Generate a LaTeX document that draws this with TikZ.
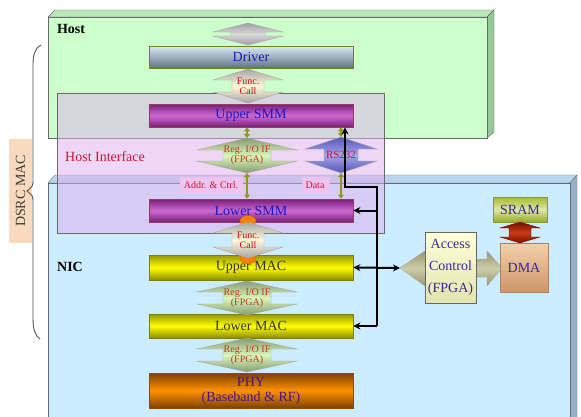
\documentclass[tikz,border=0pt]{standalone}
\usepackage{fontspec}
\setmainfont{Liberation Serif}
\usetikzlibrary{arrows.meta}
\definecolor{hostG}{RGB}{204,255,204}
\definecolor{hostGtop}{RGB}{185,232,185}
\definecolor{hostGside}{RGB}{150,200,150}
\definecolor{nicB}{RGB}{204,236,255}
\definecolor{nicBtop}{RGB}{185,214,238}
\definecolor{nicBside}{RGB}{150,178,202}
\definecolor{hifP}{RGB}{225,175,240}
\definecolor{hilite}{RGB}{238,196,238}
\definecolor{boxln}{RGB}{105,105,105}
\definecolor{olv}{RGB}{125,125,20}
\definecolor{lnkolv}{RGB}{150,150,25}
\definecolor{txB}{RGB}{25,25,200}
\definecolor{txR}{RGB}{205,20,55}
\definecolor{txF}{RGB}{210,10,10}
\definecolor{txG}{RGB}{185,60,30}
\definecolor{txN}{RGB}{55,40,150}
\definecolor{txP}{RGB}{70,20,140}

% vertical double block arrow: name, style, x, top, bottom, head half, shaft half, head length
\newcommand{\updn}[8]{%
  \path[#2] (#3,#4) -- ({#3+#6},{#4+#8}) -- ({#3+#7},{#4+#8}) -- ({#3+#7},{#5-#8})
    -- ({#3+#6},{#5-#8}) -- (#3,#5) -- ({#3-#6},{#5-#8}) -- ({#3-#7},{#5-#8})
    -- ({#3-#7},{#4+#8}) -- ({#3-#6},{#4+#8}) -- cycle;
  \coordinate (#1-n) at (#3,#4);
  \coordinate (#1-s) at (#3,#5);
  \coordinate (#1) at ({#3},{(#4+#5)/2});}

\begin{document}
\begin{tikzpicture}[
    x=1pt, y=-1pt,
    big/.style={font=\fontsize{14}{16}\selectfont},
    small/.style={font=\fontsize{10}{10}\selectfont, align=center, inner sep=0pt},
    bar/.style={rectangle, draw=olv, line width=0.8pt, minimum width=204pt, inner sep=0pt, big},
    drvbar/.style={bar, top color={rgb,255:red,215;green,235;blue,246}, bottom color={rgb,255:red,95;green,115;blue,135}, text=txB},
    smmbar/.style={bar, draw={rgb,255:red,150;green,60;blue,90}, top color={rgb,255:red,120;green,30;blue,120}, bottom color={rgb,255:red,120;green,30;blue,120}, middle color={rgb,255:red,205;green,105;blue,210}, text=txB},
    macbar/.style={bar, top color={rgb,255:red,150;green,150;blue,0}, bottom color={rgb,255:red,140;green,140;blue,0}, middle color={rgb,255:red,255;green,255;blue,0}, text={rgb,255:red,50;green,50;blue,50}},
    phybar/.style={bar, draw={rgb,255:red,130;green,80;blue,0}, top color={rgb,255:red,125;green,65;blue,0}, bottom color={rgb,255:red,125;green,65;blue,0}, middle color={rgb,255:red,255;green,145;blue,0}, text=txP, align=center},
    grayblk/.style={draw=gray!70, top color=gray!75, bottom color=gray!75, middle color=gray!30},
    fcblk/.style={draw=gray!70, top color=gray!70, bottom color=gray!70, middle color={rgb,255:red,255;green,247;blue,215}},
    regblk/.style={draw=gray!70, top color={rgb,255:red,135;green,155;blue,115}, bottom color={rgb,255:red,135;green,155;blue,115}, middle color={rgb,255:red,218;green,246;blue,185}},
    rsblk/.style={draw=gray!70, top color={rgb,255:red,85;green,85;blue,185}, bottom color={rgb,255:red,85;green,85;blue,185}, middle color={rgb,255:red,165;green,165;blue,238}},
    redblk/.style={draw={rgb,255:red,110;green,20;blue,0}, top color={rgb,255:red,120;green,15;blue,0}, bottom color={rgb,255:red,120;green,15;blue,0}, middle color={rgb,255:red,200;green,60;blue,20}},
    lnk/.style={draw=lnkolv, line width=2pt, {Triangle[length=4pt,width=6pt]}-{Triangle[length=4pt,width=6pt]}},
    bus/.style={draw=black, line width=2pt, -{Stealth[length=7pt,width=7pt]}},
  ]
  \useasboundingbox (0,0) rectangle (581,416);
  \fill[white] (0,0) rectangle (581,416);

  %% ---------------- Host and NIC boxes ----------------
  \path[draw=boxln, fill=hostGtop] (48,17) -- (55,10) -- (494,10) -- (487,17) -- cycle;
  \path[draw=boxln, fill=hostGside] (487,17) -- (494,10) -- (494,132) -- (487,138) -- cycle;
  \path[draw=boxln, fill=hostG] (48,17) rectangle (487,138);
  \path[draw=boxln, fill=nicBtop] (48,183) -- (55,175) -- (577,175) -- (570,183) -- cycle;
  \path[draw=boxln, fill=nicBside] (570,183) -- (577,175) -- (577,420) -- (570,420) -- cycle;
  \path[draw=boxln, fill=nicB] (48,183) rectangle (570,420);
  \path[draw=boxln, fill=hifP, fill opacity=0.5] (57,93) rectangle (384,233);
  \fill[hilite] (180,177) rectangle (243,193);
  \fill[hilite] (302,177) rectangle (330,193);

  \node[big, font=\fontsize{14}{16}\selectfont\bfseries] (host) at (71,29) {Host};
  \node[big, font=\fontsize{14}{16}\selectfont\bfseries] (nic) at (70,267) {NIC};
  \node[big, text=txR, anchor=west, inner sep=0pt] (hif) at (65,157) {Host Interface};
  \node[small, text=txR] (addr) at (211,185) {Addr. \& Ctrl.};
  \node[small, text=txR] (data) at (315,185) {Data};

  %% ---------------- DSRC MAC brace ----------------
  \node[big, rotate=90, fill={rgb,255:red,250;green,218;blue,190}, minimum width=104pt, minimum height=23pt, inner sep=0pt, text={rgb,255:red,60;green,60;blue,60}] (dsrc) at (20.5,191) {DSRC MAC};
  \draw[boxln!80!black, line width=0.9pt] (41,45) .. controls (34,49) and (33,56) .. (33,66) -- (33,180)
    .. controls (33,186) .. (27,191) .. controls (33,196) .. (33,202) -- (33,318)
    .. controls (33,330) and (35,335) .. (40,339);

  %% ---------------- protocol stack ----------------
  \node[drvbar, minimum height=22pt] (drv) at (251,57) {Driver};
  \node[smmbar, minimum height=23pt] (upsmm) at (251,115.5) {Upper SMM};
  \node[smmbar, minimum height=23pt] (losmm) at (251,210.5) {Lower SMM};
  \node[macbar, minimum height=25pt] (upmac) at (251,267.5) {Upper MAC};
  \node[macbar, minimum height=24pt] (lomac) at (251,326) {Lower MAC};
  \node[phybar, minimum height=35pt] (phy) at (251,390.5) {PHY\\[-1pt](Baseband \& RF)};

  \fill[orange, draw=orange!70!black, line width=0.3pt] (248,221) ellipse [x radius=8, y radius=5.5];
  \fill[orange, draw=orange!70!black, line width=0.3pt] (248,258) ellipse [x radius=8, y radius=5.5];

  \updn{top}{grayblk}{248}{23}{45}{35}{17}{9}
  \updn{fc1}{fcblk}{248}{69}{103}{35}{16}{11}
  \updn{fc2}{fcblk}{248}{222}{258}{35}{16}{11}
  \updn{reg1}{regblk}{247}{138}{173}{50}{24}{12}
  \updn{rs}{rsblk}{341}{137}{173}{36}{17}{12}
  \updn{reg2}{regblk}{247}{281}{315}{50}{24}{11}
  \updn{reg3}{regblk}{247}{338}{372}{50}{24}{11}

  \node[small, text=txF] (fc1t) at (fc1) {Func.\\Call};
  \node[small, text=txF] (fc2t) at (fc2) {Func.\\Call};
  \node[small, text=txG] (reg1t) at (reg1) {Reg. I/O IF\\(FPGA)};
  \node[small, text=txG] (reg2t) at (reg2) {Reg. I/O IF\\(FPGA)};
  \node[small, text=txG] (reg3t) at (reg3) {Reg. I/O IF\\(FPGA)};
  \node[small, text=txR, font=\fontsize{11}{11}\selectfont] (rst) at (rs) {RS232};

  \draw[lnk] (upsmm.south -| reg1-n) -- (reg1-n);
  \draw[lnk] (reg1-s) -- (losmm.north -| reg1-s);
  \draw[lnk] (upsmm.south -| rs-n) -- (rs-n);
  \draw[lnk] (rs-s) -- (losmm.north -| rs-s);

  %% ---------------- access control, DMA, SRAM ----------------
  \path[draw=gray!70, top color={rgb,255:red,150;green,150;blue,110}, bottom color={rgb,255:red,150;green,150;blue,110}, middle color={rgb,255:red,205;green,205;blue,170}]
    (400,268) -- (425,251) -- (425,259) -- (487,259) -- (487,251) -- (502,268)
    -- (487,286) -- (487,277) -- (425,277) -- (425,286) -- cycle;
  \coordinate (acctip) at (400,268);
  \node[rectangle, draw=gray!80!black, top color={rgb,255:red,255;green,255;blue,218}, bottom color={rgb,255:red,228;green,228;blue,175}, minimum width=51pt, minimum height=71pt, inner sep=0pt, big, text=txN, align=center, font=\fontsize{14}{22}\selectfont] (acc) at (450.5,267.5) {Access\\Control\\(FPGA)};
  \node[rectangle, draw={rgb,255:red,175;green,130;blue,95}, top color={rgb,255:red,242;green,208;blue,170}, bottom color={rgb,255:red,205;green,150;blue,108}, minimum width=48pt, minimum height=49pt, inner sep=0pt, big, text=txN] (dma) at (524,267.5) {DMA};
  \node[rectangle, draw={rgb,255:red,140;green,150;blue,50}, top color={rgb,255:red,165;green,185;blue,45}, bottom color={rgb,255:red,150;green,170;blue,40}, middle color={rgb,255:red,222;green,232;blue,165}, minimum width=54pt, minimum height=25pt, inner sep=0pt, big, text=txN] (sram) at (520,209.5) {SRAM};
  \updn{mem}{redblk}{520}{222}{243}{20}{11}{6}

  %% ---------------- bus to the SMM and MAC ----------------
  \coordinate (bA) at (345,187);
  \coordinate (bB) at (377,187);
  \coordinate (bC) at (377,326);
  \draw[bus] (bC) -- (bB) -- (bA) -- (upsmm.south -| bA);
  \draw[bus] (bC) -- (lomac.east);
  \draw[bus] (bB |- losmm.east) -- (losmm.east);
  \draw[bus, {Stealth[length=7pt,width=7pt]}-{Stealth[length=7pt,width=7pt]}] (upmac.east) -- (acctip);

\end{tikzpicture}
\end{document}
